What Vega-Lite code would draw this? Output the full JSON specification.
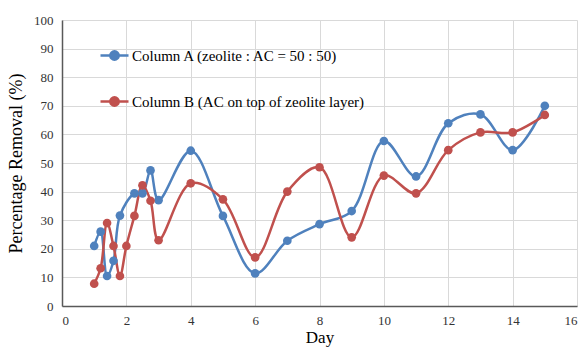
{
  "$schema": "https://vega.github.io/schema/vega-lite/v6.json",
  "width": 515,
  "height": 286,
  "autosize": {"type": "none"},
  "padding": {"left": 62, "top": 20, "right": 7, "bottom": 41},
  "background": "white",
  "config": {
    "font": "Liberation Serif",
    "view": {"stroke": null},
    "axis": {
      "gridColor": "#D9D9D9",
      "gridWidth": 1,
      "domainColor": "#595959",
      "domainWidth": 1.5,
      "ticks": false,
      "labelFont": "Liberation Serif",
      "labelFontSize": 13,
      "labelColor": "#333333",
      "titleFont": "Liberation Serif",
      "titleFontWeight": "normal",
      "titleColor": "#000000"
    }
  },
  "data": {
    "values": [
      {"day": 1.0, "value": 21.0, "series": "Column A (zeolite : AC = 50 : 50)"},
      {"day": 1.2, "value": 26.0, "series": "Column A (zeolite : AC = 50 : 50)"},
      {"day": 1.4, "value": 10.5, "series": "Column A (zeolite : AC = 50 : 50)"},
      {"day": 1.6, "value": 15.8, "series": "Column A (zeolite : AC = 50 : 50)"},
      {"day": 1.8, "value": 31.6, "series": "Column A (zeolite : AC = 50 : 50)"},
      {"day": 2.25, "value": 39.4, "series": "Column A (zeolite : AC = 50 : 50)"},
      {"day": 2.5, "value": 39.4, "series": "Column A (zeolite : AC = 50 : 50)"},
      {"day": 2.75, "value": 47.4, "series": "Column A (zeolite : AC = 50 : 50)"},
      {"day": 3.0, "value": 37.0, "series": "Column A (zeolite : AC = 50 : 50)"},
      {"day": 4, "value": 54.3, "series": "Column A (zeolite : AC = 50 : 50)"},
      {"day": 5, "value": 31.5, "series": "Column A (zeolite : AC = 50 : 50)"},
      {"day": 6, "value": 11.4, "series": "Column A (zeolite : AC = 50 : 50)"},
      {"day": 7, "value": 22.8, "series": "Column A (zeolite : AC = 50 : 50)"},
      {"day": 8, "value": 28.6, "series": "Column A (zeolite : AC = 50 : 50)"},
      {"day": 9, "value": 33.2, "series": "Column A (zeolite : AC = 50 : 50)"},
      {"day": 10, "value": 57.7, "series": "Column A (zeolite : AC = 50 : 50)"},
      {"day": 11, "value": 45.3, "series": "Column A (zeolite : AC = 50 : 50)"},
      {"day": 12, "value": 63.9, "series": "Column A (zeolite : AC = 50 : 50)"},
      {"day": 13, "value": 67.0, "series": "Column A (zeolite : AC = 50 : 50)"},
      {"day": 14, "value": 54.5, "series": "Column A (zeolite : AC = 50 : 50)"},
      {"day": 15, "value": 70.0, "series": "Column A (zeolite : AC = 50 : 50)"},
      {"day": 1.0, "value": 7.8, "series": "Column B (AC on top of zeolite layer)"},
      {"day": 1.2, "value": 13.2, "series": "Column B (AC on top of zeolite layer)"},
      {"day": 1.4, "value": 29.0, "series": "Column B (AC on top of zeolite layer)"},
      {"day": 1.6, "value": 21.0, "series": "Column B (AC on top of zeolite layer)"},
      {"day": 1.8, "value": 10.5, "series": "Column B (AC on top of zeolite layer)"},
      {"day": 2.0, "value": 21.0, "series": "Column B (AC on top of zeolite layer)"},
      {"day": 2.25, "value": 31.5, "series": "Column B (AC on top of zeolite layer)"},
      {"day": 2.5, "value": 42.2, "series": "Column B (AC on top of zeolite layer)"},
      {"day": 2.75, "value": 36.8, "series": "Column B (AC on top of zeolite layer)"},
      {"day": 3.0, "value": 23.0, "series": "Column B (AC on top of zeolite layer)"},
      {"day": 4, "value": 42.9, "series": "Column B (AC on top of zeolite layer)"},
      {"day": 5, "value": 37.3, "series": "Column B (AC on top of zeolite layer)"},
      {"day": 6, "value": 17.0, "series": "Column B (AC on top of zeolite layer)"},
      {"day": 7, "value": 40.0, "series": "Column B (AC on top of zeolite layer)"},
      {"day": 8, "value": 48.5, "series": "Column B (AC on top of zeolite layer)"},
      {"day": 9, "value": 24.0, "series": "Column B (AC on top of zeolite layer)"},
      {"day": 10, "value": 45.6, "series": "Column B (AC on top of zeolite layer)"},
      {"day": 11, "value": 39.4, "series": "Column B (AC on top of zeolite layer)"},
      {"day": 12, "value": 54.5, "series": "Column B (AC on top of zeolite layer)"},
      {"day": 13, "value": 60.7, "series": "Column B (AC on top of zeolite layer)"},
      {"day": 14, "value": 60.7, "series": "Column B (AC on top of zeolite layer)"},
      {"day": 15, "value": 66.8, "series": "Column B (AC on top of zeolite layer)"}
    ]
  },
  "encoding": {
    "x": {
      "field": "day",
      "type": "quantitative",
      "scale": {"domain": [0, 16], "nice": false},
      "axis": {"values": [0, 2, 4, 6, 8, 10, 12, 14, 16], "title": "Day", "titleFontSize": 17, "labelPadding": 8, "titlePadding": 2}
    },
    "y": {
      "field": "value",
      "type": "quantitative",
      "scale": {"domain": [0, 100], "nice": false},
      "axis": {"values": [0, 10, 20, 30, 40, 50, 60, 70, 80, 90, 100], "title": "Percentage Removal (%)", "titleFontSize": 18, "labelPadding": 9, "titlePadding": 8}
    },
    "color": {
      "field": "series",
      "type": "nominal",
      "scale": {"range": ["#4F81BD", "#C0504D"]},
      "legend": {
        "title": null,
        "orient": "none",
        "legendX": 37,
        "legendY": 20,
        "symbolType": "M-1,0H1M0.3,0A0.3,0.3,0,1,1,-0.3,0A0.3,0.3,0,1,1,0.3,0",
        "symbolSize": 784,
        "symbolStrokeWidth": 2.5,
        "labelFont": "Liberation Serif",
        "labelFontSize": 15,
        "labelColor": "#000000",
        "labelOffset": 2,
        "rowPadding": 21,
        "padding": 0,
        "labelLimit": 400
      }
    }
  },
  "layer": [
    {
      "mark": {"type": "line", "interpolate": "catmull-rom", "strokeWidth": 2.5}
    },
    {
      "mark": {"type": "point", "filled": true, "size": 75, "opacity": 1}
    }
  ]
}
